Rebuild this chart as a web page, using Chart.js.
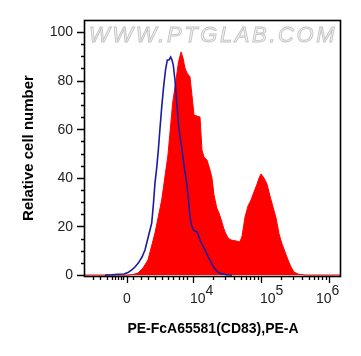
<!DOCTYPE html>
<html><head><meta charset="utf-8">
<script src="https://cdn.jsdelivr.net/npm/chart.js@4.4.1/dist/chart.umd.min.js"></script>
<style>html,body{margin:0;padding:0;background:#fff;}canvas{display:block;}</style>
</head><body>
<canvas id="c" width="361" height="356"></canvas>
<script>
// x values in logicle display units (10^4 -> 4, 10^5 -> 5, 10^6 -> 6, zero -> 3.03)
const sampleX = [2.41,3.029,3.118,3.191,3.265,3.338,3.441,3.540,3.632,3.701,3.750,3.787,3.824,3.853,3.882,3.912,3.956,3.985,4.015,4.059,4.103,4.132,4.162,4.206,4.250,4.279,4.309,4.349,4.382,4.412,4.441,4.471,4.515,4.559,4.632,4.691,4.721,4.765,4.809,4.853,4.897,4.941,4.971,5.000,5.044,5.088,5.132,5.176,5.221,5.265,5.309,5.353,5.397,5.441,5.485,5.544,5.647,6.18];
const sampleY = [0,0,0.2,0.8,2.9,6.2,17.3,30.9,49.4,70.8,80.2,87.7,91.8,89.3,85.2,83.1,81.5,74,65.8,65.4,65,51.4,48.5,47.3,43.2,39.9,32.9,27.6,25.5,23,20.2,17.7,15.2,14.4,14,13.6,16,23.9,28.4,30.9,34.2,37.4,39.9,41.6,39.9,37.4,32.5,28,23.5,16.9,12.8,9.5,6.2,3.3,1.2,0.4,0,0];
const controlX = [2.706,2.809,2.897,2.985,3.044,3.099,3.147,3.196,3.250,3.294,3.338,3.393,3.419,3.441,3.466,3.490,3.515,3.540,3.566,3.596,3.622,3.647,3.672,3.691,3.710,3.735,3.750,3.768,3.784,3.809,3.834,3.857,3.882,3.907,3.934,3.956,3.978,4.004,4.029,4.063,4.103,4.140,4.176,4.225,4.265,4.299,4.349,4.397,4.496,4.574];
const controlY = [0,0.1,0.3,0.4,1,2.1,3.3,4.9,7.4,10.3,15.2,21.4,29.6,37.9,44,51.4,60.5,69.1,77,84.4,88.5,88.5,89.7,88.5,86.4,80.2,74.9,68.7,62.6,56.8,52.7,47.3,42.4,37.9,30.9,23.9,20.6,18.5,18.1,17.7,14.4,12.3,10.3,7.4,5.3,3.4,1.6,0.7,0.1,0];

const xTickValues = [3.029, 4, 5, 6];
const xTickLabels = ['0', '10^4', '10^5', '10^6'];
const xMinorLinear = [2.529,2.632,2.735,2.809,2.853,2.897,2.934,2.971,3.118,3.235,3.338,3.441,3.537,3.632,3.713,3.787,3.853,3.919];
const yTickValues = [0, 20, 40, 60, 80, 100];
const yMinorValues = [5,10,15,25,30,35,45,50,55,65,70,75,85,90,95];
const xTitle = 'PE-FcA65581(CD83),PE-A';
const yTitle = 'Relative cell number';
const watermark = 'WWW.PTGLAB.COM';

const xLabelShift = [0, -3, -1, -13]; // horizontal offset of "10" start relative to tick
const FONT = '"Liberation Sans", Arial, sans-serif';

const decor = {
  id: 'decor',
  beforeDatasetsDraw(chart) {
    const ctx = chart.ctx, a = chart.chartArea;
    ctx.save();
    ctx.font = 'italic 22px ' + FONT;
    try { ctx.letterSpacing = '2.6px'; } catch (e) {}
    ctx.textBaseline = 'alphabetic';
    ctx.textAlign = 'left';
    ctx.fillStyle = '#f3f3f3';
    ctx.strokeStyle = '#c4c4c4';
    ctx.lineWidth = 0.9;
    ctx.fillText(watermark, a.left + 4, a.top + 22);
    ctx.strokeText(watermark, a.left + 4, a.top + 22);
    ctx.restore();
  },
  afterDraw(chart) {
    const ctx = chart.ctx, a = chart.chartArea;
    const xs = chart.scales.x, ys = chart.scales.y;
    ctx.save();
    // frame
    ctx.strokeStyle = '#000';
    ctx.lineWidth = 1.6;
    ctx.strokeRect(a.left - 0.5, a.top + 0.5, a.right - a.left, a.bottom - a.top);
    // y ticks
    ctx.lineWidth = 1.3;
    ctx.beginPath();
    yTickValues.forEach(v => { const y = Math.round(ys.getPixelForValue(v)) + 0.5; ctx.moveTo(a.left - 8, y); ctx.lineTo(a.left, y); });
    yMinorValues.forEach(v => { const y = Math.round(ys.getPixelForValue(v)) + 0.5; ctx.moveTo(a.left - 4, y); ctx.lineTo(a.left, y); });
    ctx.stroke();
    // x ticks
    const minorX = xMinorLinear.slice();
    [4, 5].forEach(d => { for (let k = 2; k <= 9; k++) minorX.push(d + Math.log10(k)); });
    ctx.beginPath();
    xTickValues.forEach(v => { const x = Math.round(xs.getPixelForValue(v)) + 0.5; ctx.moveTo(x, a.bottom); ctx.lineTo(x, a.bottom + 7); });
    minorX.forEach(v => { const x = Math.round(xs.getPixelForValue(v)) + 0.5; ctx.moveTo(x, a.bottom); ctx.lineTo(x, a.bottom + 4); });
    ctx.stroke();
    // y labels
    ctx.fillStyle = '#222';
    ctx.font = '14px ' + FONT;
    ctx.textAlign = 'right';
    ctx.textBaseline = 'middle';
    yTickValues.forEach(v => ctx.fillText(String(v), a.left - 12, ys.getPixelForValue(v) + 0.5));
    // x labels
    ctx.textBaseline = 'alphabetic';
    const base = a.bottom + 27;
    xTickLabels.forEach((lab, i) => {
      const x = xs.getPixelForValue(xTickValues[i]);
      const parts = lab.split('^');
      if (parts.length === 1) {
        ctx.textAlign = 'center';
        ctx.fillText(parts[0], x, base);
      } else {
        ctx.textAlign = 'left';
        const x0 = x + xLabelShift[i];
        ctx.fillText(parts[0], x0, base);
        const w = ctx.measureText(parts[0]).width;
        ctx.fillText(parts[1], x0 + w, base - 8);
      }
    });
    // titles
    ctx.fillStyle = '#000';
    ctx.font = 'bold 14px ' + FONT;
    ctx.textAlign = 'center';
    ctx.fillText(xTitle, (a.left + a.right) / 2, a.bottom + 57);
    ctx.save();
    ctx.translate(33, (a.top + a.bottom) / 2);
    ctx.rotate(-Math.PI / 2);
    ctx.font = 'bold 15px ' + FONT;
    ctx.fillText(yTitle, 0, 0);
    ctx.restore();
    ctx.restore();
  }
};

new Chart(document.getElementById('c').getContext('2d'), {
  type: 'line',
  data: {
    datasets: [
      { label: 'Isotype control', data: controlX.map((x, i) => ({ x, y: controlY[i] })),
        borderColor: '#1c1ca0', borderWidth: 1.6, pointRadius: 0, fill: false, tension: 0 },
      { label: 'CD83', data: sampleX.map((x, i) => ({ x, y: sampleY[i] })),
        borderColor: '#ff0000', backgroundColor: '#ff0000', borderWidth: 1, pointRadius: 0, fill: 'origin', tension: 0 }
    ]
  },
  options: {
    responsive: false, animation: false, devicePixelRatio: 1,
    layout: { padding: { left: 85, right: 20, top: 20, bottom: 80 } },
    plugins: { legend: { display: false }, tooltip: { enabled: false } },
    scales: {
      x: { type: 'linear', min: 2.412, max: 6.176, display: false },
      y: { type: 'linear', min: -0.41, max: 104.94, display: false }
    }
  },
  plugins: [decor]
});
</script>
</body></html>
